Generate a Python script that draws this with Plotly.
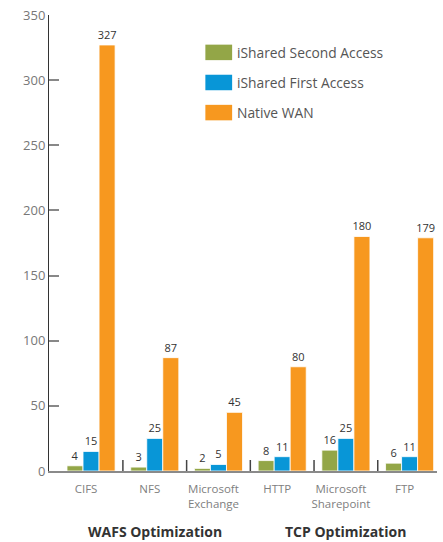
import plotly.graph_objects as go

categories = ["CIFS", "NFS", "Microsoft<br>Exchange", "HTTP", "Microsoft<br>Sharepoint", "FTP"]
series_names = ["iShared Second Access", "iShared First Access", "Native WAN"]
second_access = [4, 3, 2, 8, 16, 6]
first_access = [15, 25, 5, 11, 25, 11]
native_wan = [327, 87, 45, 80, 180, 179]
group_labels = ["WAFS Optimization", "TCP Optimization"]
group_centers = [1, 4]
y_ticks = [0, 50, 100, 150, 200, 250, 300, 350]

colors = ["#93a647", "#0896d7", "#f7981f"]
FONT = "Open Sans"

fig = go.Figure()
for name, vals, col in zip(series_names, [second_access, first_access, native_wan], colors):
    fig.add_trace(go.Bar(
        x=categories, y=vals, name=name,
        marker=dict(color=col, line=dict(color="white", width=0.8)),
        text=[str(v) for v in vals], textposition="outside",
        textfont=dict(family=FONT, size=11, color="#333333"),
        constraintext="none", cliponaxis=False, showlegend=False,
    ))

shapes = []
# category dividers
for i in range(len(categories) - 1):
    shapes.append(dict(type="line", xref="x", yref="y", x0=i + 0.5, x1=i + 0.5,
                       ysizemode="pixel", yanchor=0, y0=0, y1=11,
                       line=dict(color="#444444", width=1.5)))
# manual legend
annotations = []
leg_y = [0.918, 0.852, 0.786]
for name, col, yy in zip(series_names, colors, leg_y):
    shapes.append(dict(type="rect", xref="paper", yref="paper",
                       x0=0.403, x1=0.472, y0=yy - 0.017, y1=yy + 0.017,
                       fillcolor=col, line=dict(width=0)))
    annotations.append(dict(xref="paper", yref="paper", x=0.48, y=yy, text=name,
                            showarrow=False, xanchor="left", yanchor="middle",
                            font=dict(family=FONT, size=13.8, color="#555555")))
for lbl, cx in zip(group_labels, group_centers):
    annotations.append(dict(xref="x", yref="paper", x=categories[cx], y=-0.133, text="<b>%s</b>" % lbl,
                            showarrow=False, xanchor="center", yanchor="middle",
                            font=dict(family=FONT, size=14, color="#333333")))

fig.update_layout(
    width=443, height=542,
    margin=dict(l=49, r=6, t=15, b=71),
    paper_bgcolor="white", plot_bgcolor="white",
    barmode="group", bargap=0.245, bargroupgap=0,
    font=dict(family=FONT, color="#777777"),
    shapes=shapes, annotations=annotations,
    xaxis=dict(type="category", range=[-0.66, 5.43], showgrid=False, ticks="",
               showline=True, linecolor="#8a8a8a", linewidth=2,
               ticklabelstandoff=6, ticklabelshift=-5,
               tickfont=dict(family=FONT, size=11.5, color="#808080")),
    yaxis=dict(range=[0, 350], tickvals=y_ticks, showgrid=False, zeroline=False,
               showline=True, linecolor="#333333", linewidth=1,
               ticks="inside", ticklen=10, tickcolor="#888888", tickwidth=2,
               tickfont=dict(family=FONT, size=13, color="#777777")),
)

fig.write_html("out.html", config={"displayModeBar": False},
               post_script="document.body.style.margin='0';document.body.style.overflow='hidden';")
